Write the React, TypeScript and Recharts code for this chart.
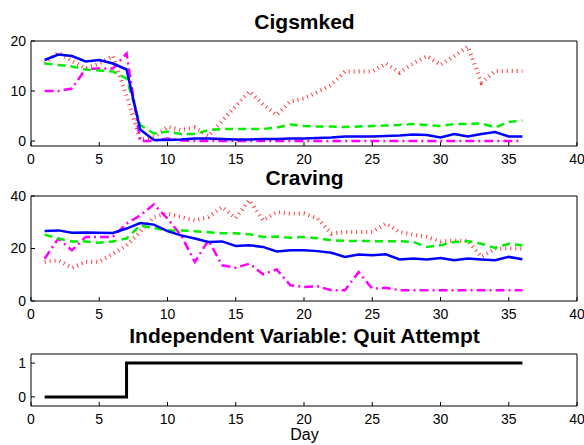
import { Line, LineChart, XAxis, YAxis } from 'recharts';

const days = [
  1, 2, 3, 4, 5, 6, 7, 8, 9, 10, 11, 12, 13, 14, 15, 16, 17, 18,
  19, 20, 21, 22, 23, 24, 25, 26, 27, 28, 29, 30, 31, 32, 33, 34, 35, 36,
];
const dayTicks = [0, 5, 10, 15, 20, 25, 30, 35, 40];

// Cigsmked panel
const cigsBlue = [
  16.2, 17.3, 17.0, 15.9, 16.2, 15.5, 14.3, 2.3, 0.2, 0.2, 0.3, 0.5, 0.5, 0.4, 0.3, 0.3, 0.4, 0.4,
  0.5, 0.5, 0.6, 0.7, 0.9, 0.9, 0.9, 1.0, 1.1, 1.3, 1.2, 0.7, 1.4, 0.9, 1.4, 1.8, 0.9, 0.9,
];
const cigsGreen = [
  15.5, 15.2, 14.9, 14.3, 14.1, 13.9, 12.5, 3.2, 1.5, 1.9, 1.4, 1.4, 2.2, 2.4, 2.4, 2.4, 2.4, 2.7,
  3.3, 3.0, 2.9, 2.9, 2.8, 2.9, 3.0, 3.1, 3.2, 3.4, 3.2, 3.0, 3.4, 3.4, 3.5, 2.7, 3.8, 4.1,
];
const cigsRed = [
  15.5, 17.7, 16.0, 14.5, 15.5, 17.0, 9.0, 0.3, 0.8, 2.8, 2.2, 2.7, 1.0, 4.0, 7.0, 9.9, 7.3, 5.2,
  7.9, 8.5, 9.8, 11.2, 13.9, 13.9, 13.9, 15.5, 13.7, 15.5, 17.0, 15.2, 17.0, 18.9, 11.7, 14.0, 14.0, 14.0,
];
const cigsMagenta = [
  10.0, 10.0, 10.5, 14.4, 14.5, 14.5, 17.5, 0.0, 0.0, 0.5, 0.1, 0.0, 0.0, 0.0, 0.0, 0.0, 0.0, 0.0,
  0.0, 0.0, 0.0, 0.0, 0.0, 0.0, 0.0, 0.0, 0.0, 0.0, 0.0, 0.0, 0.0, 0.0, 0.0, 0.0, 0.0, 0.0,
];

// Craving panel
const cravBlue = [
  26.7, 26.9, 26.0, 26.1, 26.0, 25.9, 27.6, 29.7, 29.1, 26.6, 25.0, 23.8, 22.5, 22.7, 21.0, 21.2, 20.6, 18.9,
  19.3, 19.3, 19.0, 18.4, 16.8, 17.7, 17.4, 17.8, 15.8, 16.2, 15.8, 16.4, 15.5, 16.2, 15.8, 15.5, 16.8, 15.9,
];
const cravGreen = [
  25.3, 23.8, 22.7, 22.7, 22.2, 22.7, 23.8, 28.8, 27.8, 26.9, 26.9, 26.6, 26.2, 25.8, 25.8, 25.4, 24.4, 24.6,
  24.1, 24.4, 23.9, 23.1, 22.9, 22.9, 22.8, 22.8, 22.8, 22.5, 20.6, 21.2, 22.5, 22.8, 21.8, 20.2, 21.8, 21.2,
];
const cravRed = [
  14.9, 15.5, 12.6, 15.0, 15.0, 18.0, 21.2, 26.3, 32.0, 33.3, 32.0, 30.7, 32.0, 35.8, 31.6, 38.4, 30.7, 33.9,
  33.3, 33.3, 31.4, 25.7, 26.3, 26.3, 26.3, 29.5, 26.3, 25.3, 24.4, 22.7, 23.0, 23.0, 16.8, 20.0, 20.0, 20.0,
];
const cravMagenta = [
  16.1, 23.8, 19.3, 24.4, 24.4, 24.4, 29.5, 32.6, 36.8, 31.4, 25.0, 14.9, 23.1, 13.6, 12.7, 14.2, 10.2, 12.0,
  6.0, 5.3, 5.6, 4.1, 4.1, 11.0, 4.7, 5.0, 4.1, 4.1, 4.1, 4.1, 4.1, 4.1, 4.1, 4.1, 4.1, 4.1,
];

// Independent variable
const quitAttempt = [
  0, 0, 0, 0, 0, 0, 1, 1, 1, 1, 1, 1, 1, 1, 1, 1, 1, 1,
  1, 1, 1, 1, 1, 1, 1, 1, 1, 1, 1, 1, 1, 1, 1, 1, 1, 1,
];

const cigsData = days.map((day, i) => ({
  day,
  blue: cigsBlue[i],
  green: cigsGreen[i],
  red: cigsRed[i],
  magenta: cigsMagenta[i],
}));
const cravData = days.map((day, i) => ({
  day,
  blue: cravBlue[i],
  green: cravGreen[i],
  red: cravRed[i],
  magenta: cravMagenta[i],
}));
const quitData = days.map((day, i) => ({ day, quit: quitAttempt[i] }));

const black = { stroke: '#000' };
const tickText = { fill: '#000', fontSize: 14 };

type FrameProps = {
  yDomain: [number, number];
  yTicks: number[];
  xHeight: number;
};

// MATLAB style box: inward ticks on all four sides, labels only bottom/left
function frameAxes({ yDomain, yTicks, xHeight }: FrameProps) {
  return [
    <XAxis
      key="xb"
      xAxisId="b"
      dataKey="day"
      type="number"
      domain={[0, 40]}
      ticks={dayTicks}
      interval={0}
      height={xHeight}
      tickSize={-4}
      tickMargin={12}
      tick={tickText}
      axisLine={black}
      tickLine={black}
    />,
    <XAxis
      key="xt"
      xAxisId="t"
      orientation="top"
      dataKey="day"
      type="number"
      domain={[0, 40]}
      ticks={dayTicks}
      interval={0}
      height={1}
      tickSize={-4}
      tick={false}
      axisLine={black}
      tickLine={black}
    />,
    <YAxis
      key="yl"
      yAxisId="l"
      type="number"
      domain={yDomain}
      ticks={yTicks}
      interval={0}
      width={31}
      tickSize={-4}
      tickMargin={9}
      tick={tickText}
      axisLine={black}
      tickLine={black}
    />,
    <YAxis
      key="yr"
      yAxisId="r"
      orientation="right"
      type="number"
      domain={yDomain}
      ticks={yTicks}
      interval={0}
      width={1}
      tickSize={-4}
      tick={false}
      axisLine={black}
      tickLine={black}
    />,
  ];
}

function fourLines() {
  const common = { xAxisId: 'b', yAxisId: 'l', dot: false, isAnimationActive: false } as const;
  return [
    <Line key="red" {...common} type="linear" dataKey="red" stroke="#ff3a3a" strokeWidth={4} strokeDasharray="1 4" />,
    <Line key="mag" {...common} type="linear" dataKey="magenta" stroke="#ff00ff" strokeWidth={2.5} strokeDasharray="9 4 2 4" />,
    <Line key="green" {...common} type="linear" dataKey="green" stroke="#00ee00" strokeWidth={2.5} strokeDasharray="8 5" />,
    <Line key="blue" {...common} type="linear" dataKey="blue" stroke="#0000ff" strokeWidth={2.5} />,
  ];
}

const titleStyle = {
  position: 'absolute' as const,
  left: 31,
  width: 547,
  textAlign: 'center' as const,
  fontWeight: 'bold' as const,
  fontSize: 21,
  lineHeight: '21px',
};

export default function App() {
  return (
    <div
      style={{
        position: 'fixed',
        left: 0,
        top: 0,
        width: 584,
        height: 445,
        background: '#fff',
        fontFamily: '"Liberation Sans", Arial, sans-serif',
        color: '#000',
      }}
    >
      <div style={{ ...titleStyle, top: 11 }}>Cigsmked</div>
      <div style={{ position: 'absolute', left: 0, top: 0 }}>
        <LineChart width={584} height={170} data={cigsData} margin={{ top: 40, right: 6, bottom: 0, left: 0 }}>
          {frameAxes({ yDomain: [-1, 20], yTicks: [0, 10, 20], xHeight: 24 })}
          {fourLines()}
        </LineChart>
      </div>

      <div style={{ ...titleStyle, top: 167 }}>Craving</div>
      <div style={{ position: 'absolute', left: 0, top: 170 }}>
        <LineChart width={584} height={155} data={cravData} margin={{ top: 25, right: 6, bottom: 0, left: 0 }}>
          {frameAxes({ yDomain: [0, 40], yTicks: [0, 20, 40], xHeight: 24 })}
          {fourLines()}
        </LineChart>
      </div>

      <div style={{ ...titleStyle, top: 325 }}>Independent Variable: Quit Attempt</div>
      <div style={{ position: 'absolute', left: 0, top: 325 }}>
        <LineChart width={584} height={120} data={quitData} margin={{ top: 28, right: 6, bottom: 0, left: 0 }}>
          {frameAxes({ yDomain: [-0.27, 1.27], yTicks: [0, 1], xHeight: 39 })}
          <Line
            xAxisId="b"
            yAxisId="l"
            type="stepAfter"
            dataKey="quit"
            stroke="#000"
            strokeWidth={3}
            dot={false}
            isAnimationActive={false}
          />
        </LineChart>
      </div>
      <div
        style={{
          position: 'absolute',
          left: 31,
          width: 547,
          top: 427,
          textAlign: 'center',
          fontSize: 16,
          lineHeight: '16px',
        }}
      >
        Day
      </div>
    </div>
  );
}
